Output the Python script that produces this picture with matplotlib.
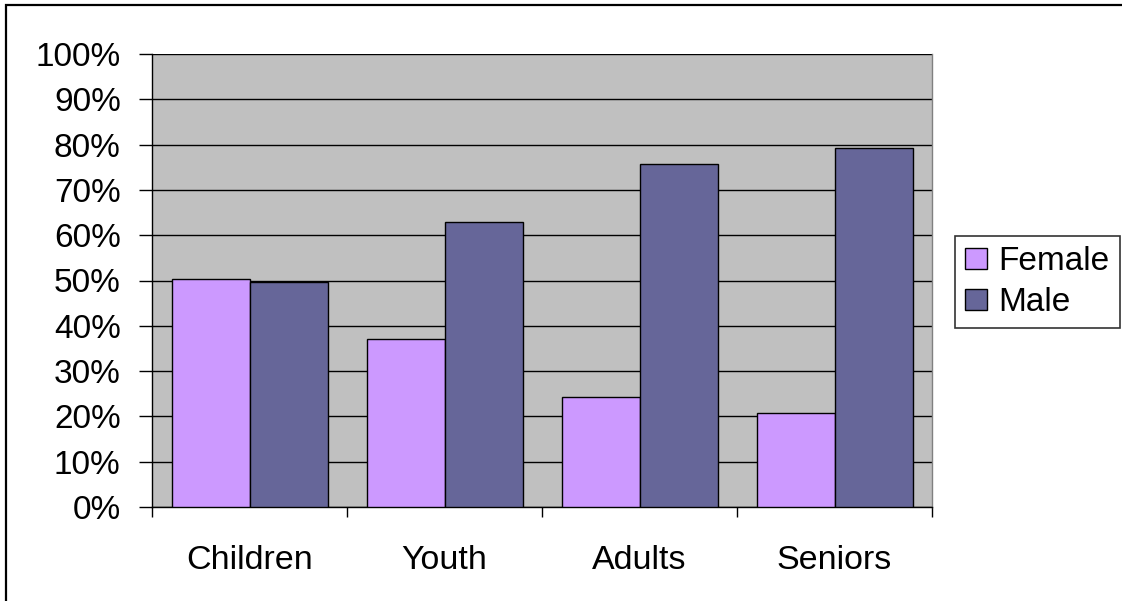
import numpy as np
import matplotlib.pyplot as plt
from matplotlib.patches import Rectangle
from matplotlib.ticker import PercentFormatter

plt.rcParams['font.family'] = ['Liberation Sans', 'DejaVu Sans']

# Share of each age group by gender
grupos = ['Children', 'Youth', 'Adults', 'Seniors']
female = [50.4, 37.0, 24.2, 20.7]
male = [49.6, 63.0, 75.8, 79.3]

fig = plt.figure(figsize=(11.22, 6.01), dpi=100)
ax = fig.add_axes([152 / 1122, 1 - 507 / 601, 780 / 1122, 453 / 601])
ax.set_facecolor('#C0C0C0')

x = np.arange(len(grupos))
ancho = 0.4
ax.bar(x - ancho / 2, female, ancho, color='#CC99FF', edgecolor='black',
       linewidth=1, label='Female', zorder=3)
ax.bar(x + ancho / 2, male, ancho, color='#666699', edgecolor='black',
       linewidth=1, label='Male', zorder=3)

ax.set_xlim(-0.5, len(grupos) - 0.5)
ax.set_ylim(0, 100)
ax.set_yticks(range(0, 101, 10))
ax.yaxis.set_major_formatter(PercentFormatter(decimals=0))
ax.yaxis.grid(True, color='black', linewidth=1, zorder=0)

ax.set_xticks(x)
ax.set_xticklabels(grupos)
ax.set_xticks(np.arange(-0.5, len(grupos)), minor=True)
ax.tick_params(axis='x', which='major', length=0, pad=27.5, labelsize=24.5)
ax.tick_params(axis='x', which='minor', length=7, width=1, direction='out')
ax.tick_params(axis='y', length=9.5, width=1, direction='out', labelsize=24, pad=13)

for lado in ['left', 'bottom']:
    ax.spines[lado].set_color('black')
    ax.spines[lado].set_linewidth(1)
ax.spines['top'].set_visible(False)
ax.spines['right'].set_color('#808080')
ax.spines['right'].set_linewidth(1)

leg = fig.legend(loc='center left', bbox_to_anchor=(955 / 1122, 1 - 282 / 601),
                 fontsize=24, frameon=True, fancybox=False, edgecolor='black',
                 handlelength=0.65, handleheight=0.6, handletextpad=0.36,
                 borderpad=0.3, labelspacing=0.3, borderaxespad=0)
leg.get_frame().set_linewidth(1.2)

# Borde exterior del grafico
fig.patches.append(Rectangle((6 / 1122, -0.05), 1.2, 1 - 5 / 601 + 0.05,
                             transform=fig.transFigure, fill=False,
                             edgecolor='black', linewidth=1.6))

fig.savefig('out.png', dpi=100)
